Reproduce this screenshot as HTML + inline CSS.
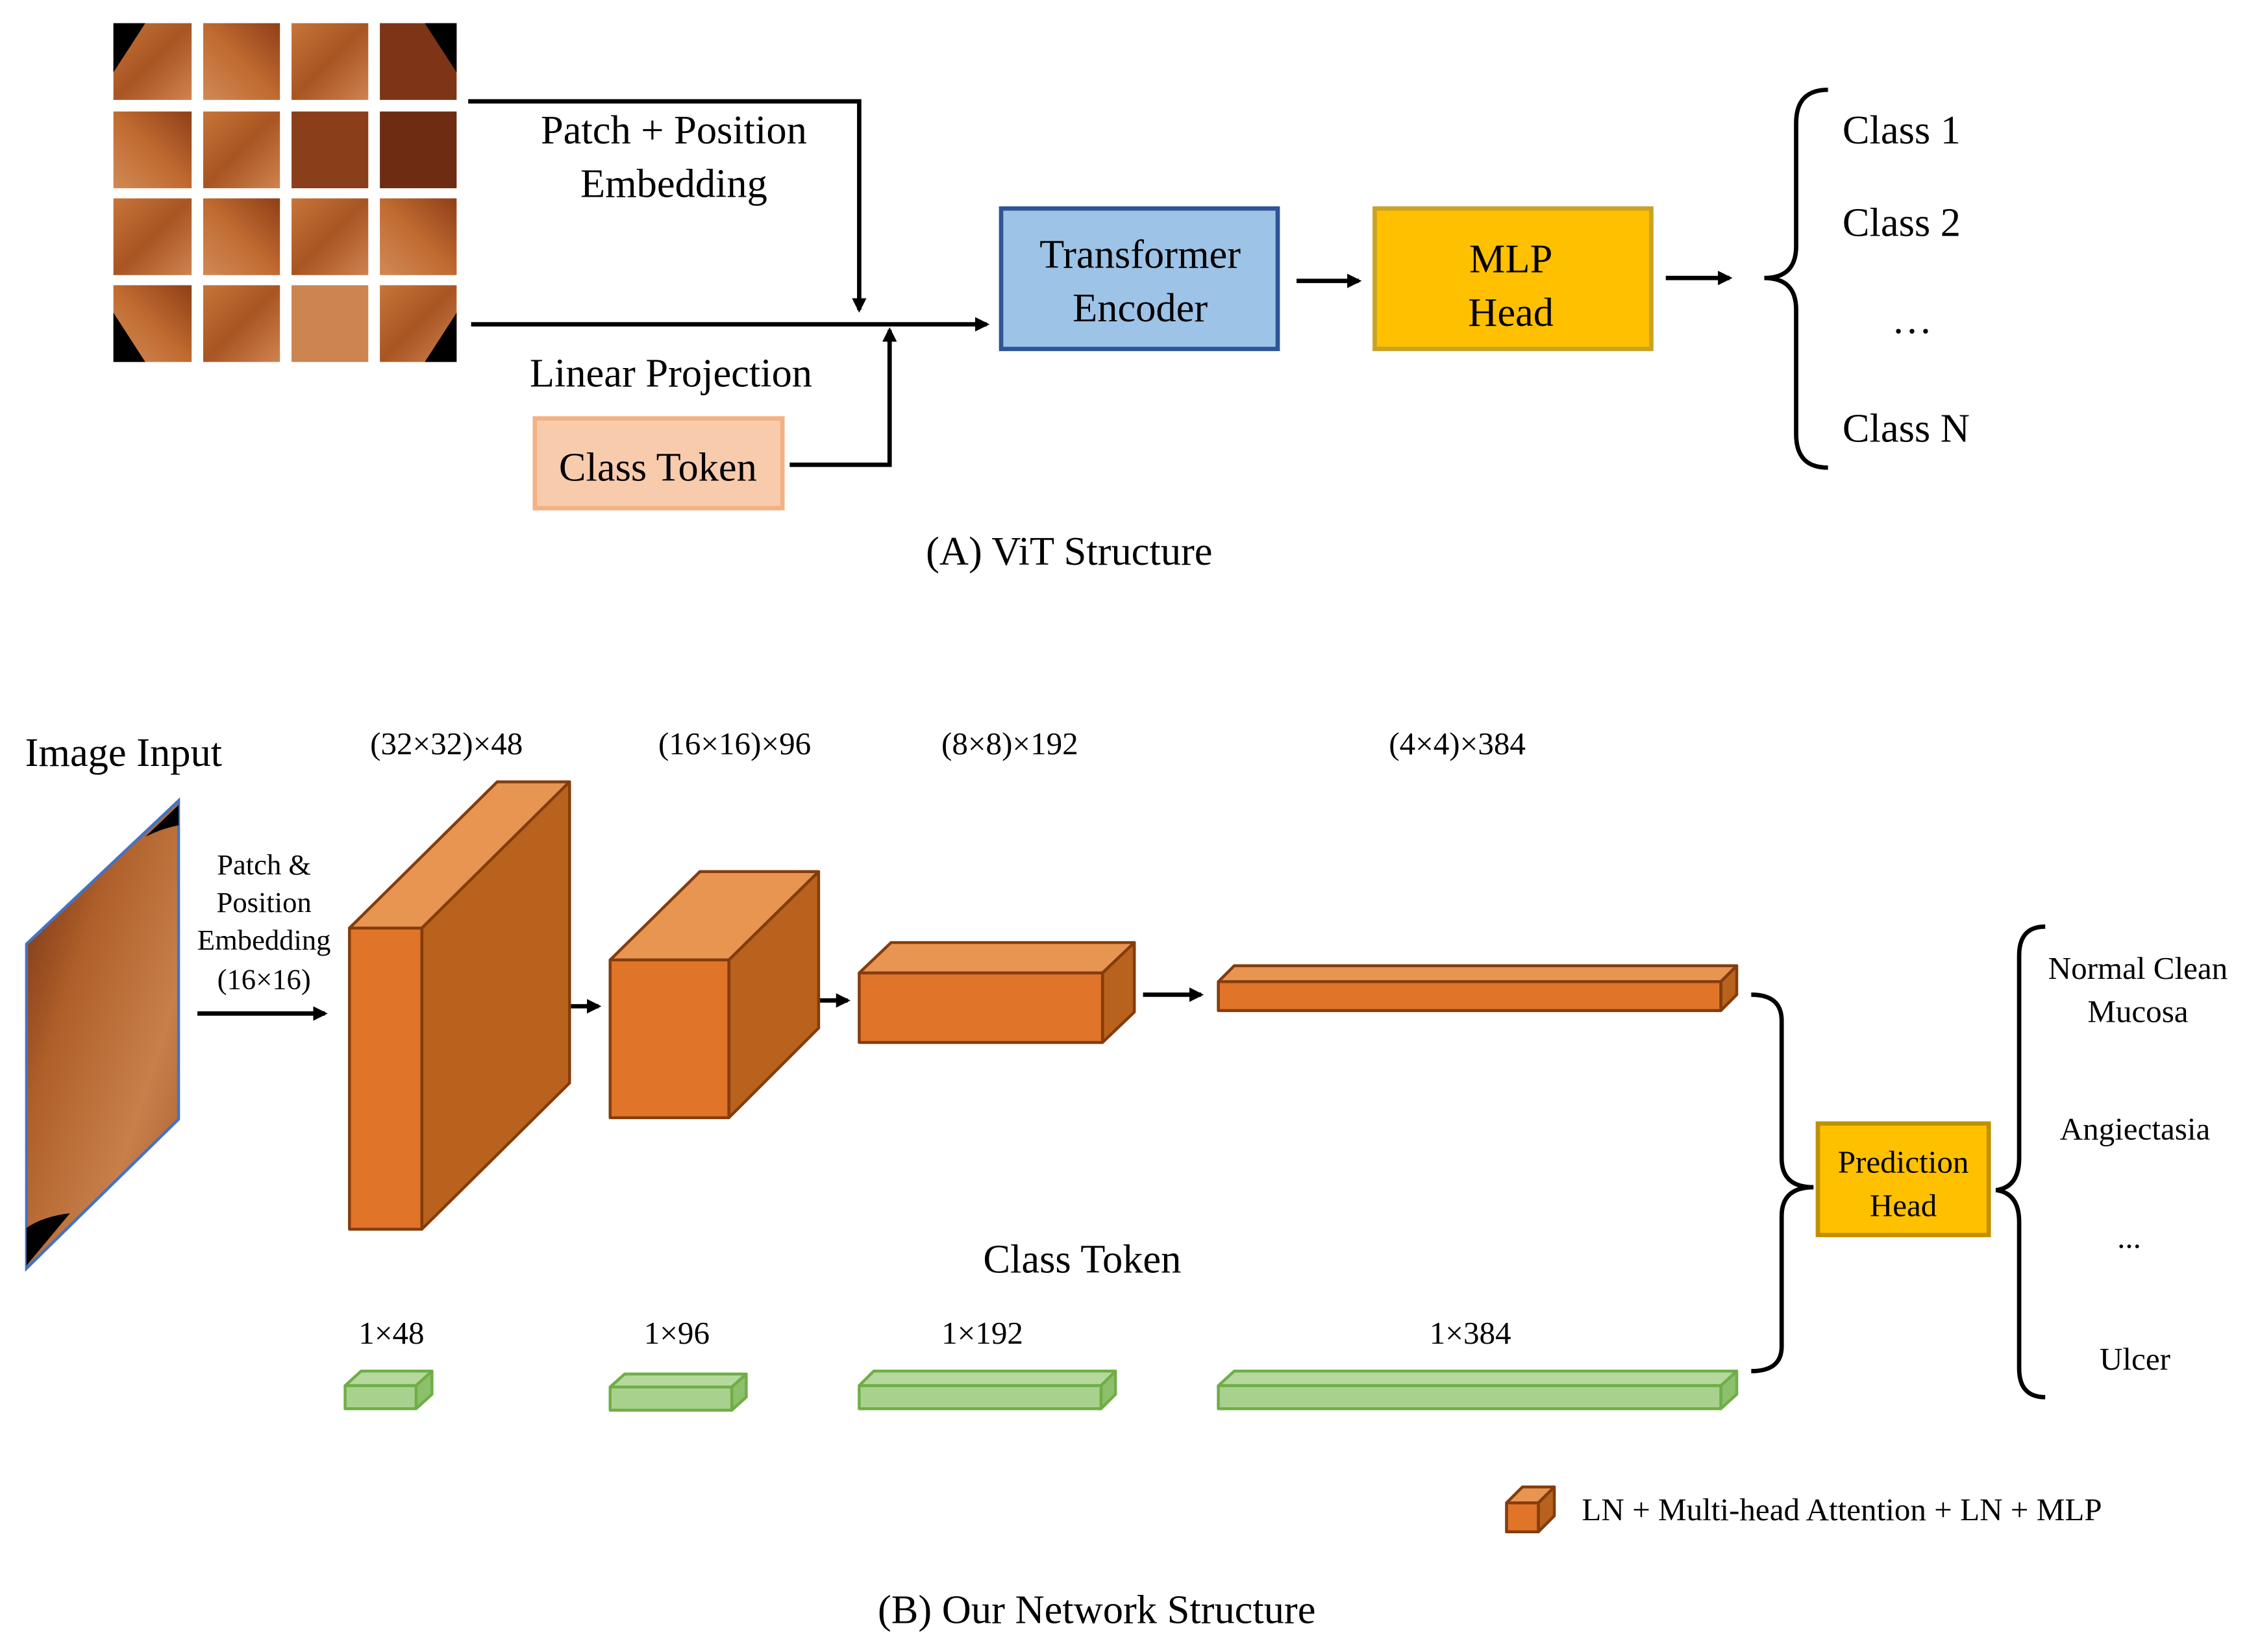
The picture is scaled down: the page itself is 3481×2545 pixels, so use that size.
<!DOCTYPE html>
<html><head><meta charset="utf-8"><style>html,body{margin:0;padding:0;background:#fff}svg{display:block}</style></head>
<body>
<svg width="3481" height="2545" viewBox="0 0 1560 1141" xmlns="http://www.w3.org/2000/svg" font-family="'Liberation Serif', 'Times New Roman', 'DejaVu Serif', serif">
<defs>
<marker id="ar" markerWidth="10" markerHeight="10" refX="8" refY="5" orient="auto" markerUnits="userSpaceOnUse"><path d="M0,0 L10,5 L0,10 z" fill="#000"/></marker>
<linearGradient id="p1" x1="0" y1="0" x2="1" y2="1"><stop offset="0" stop-color="#C7753A"/><stop offset="0.5" stop-color="#A85522"/><stop offset="1" stop-color="#CF8350"/></linearGradient>
<linearGradient id="p2" x1="1" y1="0" x2="0" y2="1"><stop offset="0" stop-color="#8E3F18"/><stop offset="0.5" stop-color="#C06A30"/><stop offset="1" stop-color="#D08A55"/></linearGradient>
<linearGradient id="img" x1="0" y1="0" x2="1" y2="1"><stop offset="0" stop-color="#6B2C10"/><stop offset="0.35" stop-color="#B0602A"/><stop offset="0.7" stop-color="#C7804A"/><stop offset="1" stop-color="#A95A2C"/></linearGradient>
</defs>
<rect width="1560" height="1141" fill="#fff"/>
<g>
<rect x="78" y="16" width="54" height="53" fill="url(#p1)"/><rect x="140" y="16" width="53" height="53" fill="url(#p2)"/><rect x="201" y="16" width="53" height="53" fill="url(#p1)"/><rect x="262" y="16" width="53" height="53" fill="#7E3517"/>
<rect x="78" y="77" width="54" height="53" fill="url(#p2)"/><rect x="140" y="77" width="53" height="53" fill="url(#p1)"/><rect x="201" y="77" width="53" height="53" fill="#8A3E1A"/><rect x="262" y="77" width="53" height="53" fill="#6E2C12"/>
<rect x="78" y="137" width="54" height="53" fill="url(#p1)"/><rect x="140" y="137" width="53" height="53" fill="url(#p2)"/><rect x="201" y="137" width="53" height="53" fill="url(#p1)"/><rect x="262" y="137" width="53" height="53" fill="url(#p2)"/>
<rect x="78" y="197" width="54" height="53" fill="url(#p2)"/><rect x="140" y="197" width="53" height="53" fill="url(#p1)"/><rect x="201" y="197" width="53" height="53" fill="#CC8550"/><rect x="262" y="197" width="53" height="53" fill="url(#p1)"/>
<path d="M78,16 L100,16 L78,50 z" fill="#000"/><path d="M315,16 L293,16 L315,50 z" fill="#000"/>
<path d="M78,250 L100,250 L78,216 z" fill="#000"/><path d="M315,250 L293,250 L315,216 z" fill="#000"/>
</g>
<g stroke="#000" stroke-width="3" fill="none">
<polyline points="323,70 593,70 593,214" marker-end="url(#ar)"/>
<line x1="325" y1="224" x2="681" y2="224" marker-end="url(#ar)"/>
<polyline points="545,321 614,321 614,228" marker-end="url(#ar)"/>
<line x1="895" y1="194" x2="938" y2="194" marker-end="url(#ar)"/>
<line x1="1150" y1="192" x2="1194" y2="192" marker-end="url(#ar)"/>
<path d="M1262,62 Q1240,62 1240,85 L1240,170 Q1240,192 1218,192 Q1240,192 1240,214 L1240,300 Q1240,323 1262,323"/>
</g>
<text x="465" y="99" font-size="28" text-anchor="middle">Patch + Position</text>
<text x="465" y="136" font-size="28" text-anchor="middle">Embedding</text>
<text x="463" y="267" font-size="28" text-anchor="middle">Linear Projection</text>
<rect x="369" y="289" width="171" height="62" fill="#F8CBAD" stroke="#F4B183" stroke-width="3"/>
<text x="454" y="332" font-size="28" text-anchor="middle">Class Token</text>
<rect x="691" y="144" width="191" height="97" fill="#9DC3E6" stroke="#2F5597" stroke-width="3"/>
<text x="787" y="185" font-size="28" text-anchor="middle">Transformer</text>
<text x="787" y="222" font-size="28" text-anchor="middle">Encoder</text>
<rect x="949" y="144" width="191" height="97" fill="#FFC000" stroke="#C9A227" stroke-width="3"/>
<text x="1043" y="188" font-size="28" text-anchor="middle">MLP</text>
<text x="1043" y="225" font-size="28" text-anchor="middle">Head</text>
<text x="1272" y="99" font-size="28">Class 1</text>
<text x="1272" y="163" font-size="28">Class 2</text>
<text x="1306" y="230" font-size="28">…</text>
<text x="1272" y="305" font-size="28">Class N</text>
<text x="738" y="390" font-size="28" text-anchor="middle">(A) ViT Structure</text>

<text x="17" y="529" font-size="28">Image Input</text>
<polygon points="18,652 123,553 123,773 18,876" fill="url(#img)" stroke="#4472C4" stroke-width="2"/>
<path d="M123,556 L100,578 Q112,572 123,570z" fill="#000"/><path d="M18,874 L18,848 Q30,840 48,838z" fill="#000"/>
<text x="308" y="521" font-size="22" text-anchor="middle">(32×32)×48</text>
<text x="507" y="521" font-size="22" text-anchor="middle">(16×16)×96</text>
<text x="697" y="521" font-size="22" text-anchor="middle">(8×8)×192</text>
<text x="1006" y="521" font-size="22" text-anchor="middle">(4×4)×384</text>
<g font-size="20" text-anchor="middle"><text x="182" y="604">Patch &amp;</text><text x="182" y="630">Position</text><text x="182" y="656">Embedding</text><text x="182" y="683">(16×16)</text></g>
<g stroke="#000" stroke-width="3" fill="none">
<line x1="136" y1="700" x2="224" y2="700" marker-end="url(#ar)"/>
<line x1="373" y1="695" x2="413" y2="695" marker-end="url(#ar)"/>
<line x1="549" y1="691" x2="585" y2="691" marker-end="url(#ar)"/>
<line x1="789" y1="687" x2="829" y2="687" marker-end="url(#ar)"/>
</g>
<g stroke="#843C0C" stroke-width="2" stroke-linejoin="round">
<polygon points="241,641 291,641 393,540 343,540" fill="#E89552"/>
<polygon points="291,641 393,540 393,748 291,849" fill="#B8621E"/>
<rect x="241" y="641" width="50" height="208" fill="#E07428"/>
<polygon points="421,663 503,663 565,602 483,602" fill="#E89552"/>
<polygon points="503,663 565,602 565,710 503,772" fill="#B8621E"/>
<rect x="421" y="663" width="82" height="109" fill="#E07428"/>
<polygon points="593,672 761,672 783,651 615,651" fill="#E89552"/>
<polygon points="761,672 783,651 783,699 761,720" fill="#B8621E"/>
<rect x="593" y="672" width="168" height="48" fill="#E07428"/>
<polygon points="841,678 1188,678 1199,667 852,667" fill="#E89552"/>
<polygon points="1188,678 1199,667 1199,687 1188,698" fill="#B8621E"/>
<rect x="841" y="678" width="347" height="20" fill="#E07428"/>
<polygon points="1040,1038 1062,1038 1073,1027 1051,1027" fill="#E89552"/>
<polygon points="1062,1038 1073,1027 1073,1047 1062,1058" fill="#B8621E"/>
<rect x="1040" y="1038" width="22" height="20" fill="#E07428"/>
</g>
<text x="747" y="879" font-size="28" text-anchor="middle">Class Token</text>
<g font-size="22" text-anchor="middle"><text x="270" y="928">1×48</text><text x="467" y="928">1×96</text><text x="678" y="928">1×192</text><text x="1015" y="928">1×384</text></g>
<g stroke="#70AD47" stroke-width="2" stroke-linejoin="round">
<polygon points="238,957 287,957 298,947 249,947" fill="#B5D99C"/><polygon points="287,957 298,947 298,963 287,973" fill="#8CC06A"/><rect x="238" y="957" width="49" height="16" fill="#A9D18E"/>
<polygon points="421,958 505,958 515,949 431,949" fill="#B5D99C"/><polygon points="505,958 515,949 515,965 505,974" fill="#8CC06A"/><rect x="421" y="958" width="84" height="16" fill="#A9D18E"/>
<polygon points="593,957 760,957 770,947 603,947" fill="#B5D99C"/><polygon points="760,957 770,947 770,963 760,973" fill="#8CC06A"/><rect x="593" y="957" width="167" height="16" fill="#A9D18E"/>
<polygon points="841,957 1188,957 1199,947 852,947" fill="#B5D99C"/><polygon points="1188,957 1199,947 1199,963 1188,973" fill="#8CC06A"/><rect x="841" y="957" width="347" height="16" fill="#A9D18E"/>
</g>
<g stroke="#000" stroke-width="3" fill="none">
<path d="M1209,687 Q1230,687 1230,705 L1230,800 Q1230,820 1252,820 Q1230,820 1230,840 L1230,930 Q1230,947 1209,947"/>
<path d="M1412,640 Q1394,640 1394,660 L1394,800 Q1394,820 1378,822 Q1394,824 1394,844 L1394,945 Q1394,965 1412,965"/>
</g>
<rect x="1255" y="776" width="118" height="77" fill="#FFC000" stroke="#BF9000" stroke-width="3"/>
<text x="1314" y="810" font-size="22" text-anchor="middle">Prediction</text>
<text x="1314" y="840" font-size="22" text-anchor="middle">Head</text>
<g font-size="22" text-anchor="middle"><text x="1476" y="676">Normal Clean</text><text x="1476" y="706">Mucosa</text><text x="1474" y="787">Angiectasia</text><text x="1470" y="862">...</text><text x="1474" y="946">Ulcer</text></g>
<text x="1092" y="1050" font-size="22">LN + Multi-head Attention + LN + MLP</text>
<text x="757" y="1121" font-size="28" text-anchor="middle">(B) Our Network Structure</text>
</svg>
</body></html>
